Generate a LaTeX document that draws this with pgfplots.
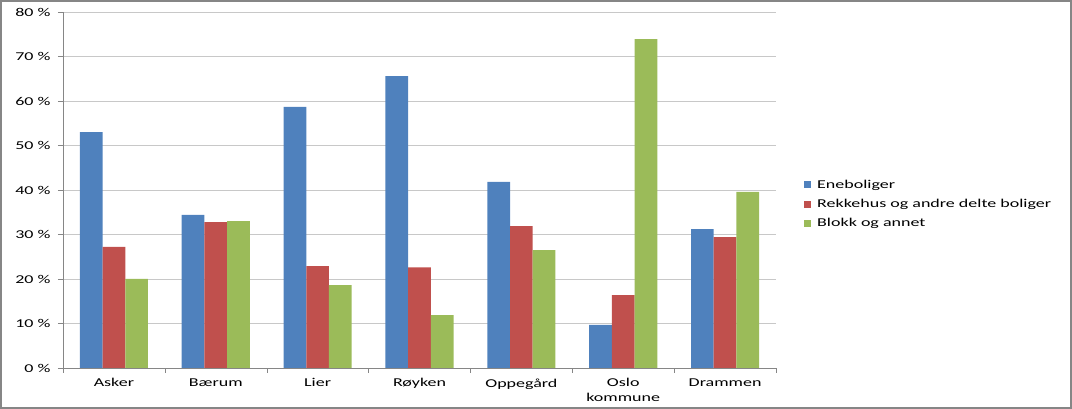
\documentclass[border=0pt]{standalone}
\usepackage{fontspec}
\setmainfont{Carlito}[FakeStretch=1.5]
\usepackage{pgfplots}
\pgfplotsset{compat=1.18}
\definecolor{eneb}{HTML}{4F81BD}
\definecolor{rekk}{HTML}{C0504D}
\definecolor{blokk}{HTML}{9BBB59}
\definecolor{gridc}{HTML}{C8C8C8}
\definecolor{axisc}{HTML}{868686}
\newcommand{\lbl}{\fontsize{12}{14.5}\selectfont}

\begin{document}
\begin{tikzpicture}[x=1pt,y=1pt]
\path[use as bounding box] (0,0) rectangle (1072,409);
\draw[axisc, line width=1.6pt] (0.8,0.8) rectangle (1071.2,408.2);
\begin{axis}[
    at={(63pt,41pt)}, anchor=south west,
    width=713pt, height=356pt, scale only axis,
    xmin=-0.5, xmax=6.5, ymin=0, ymax=80,
    ybar=0pt, bar width=22.7pt,
    axis x line*=bottom, axis y line*=left,
    axis line style={axisc},
    ymajorgrids, grid style={gridc},
    ytick={0,10,...,80},
    yticklabels={0 \%,10 \%,20 \%,30 \%,40 \%,50 \%,60 \%,70 \%,80 \%},
    ytick style={axisc},
    major tick length=5pt, tick align=outside,
    xtick={0,...,6},
    xticklabels={Asker,Bærum,Lier,Røyken,Oppegård,{Oslo\\kommune},Drammen},
    xtick style={draw=none},
    extra x ticks={-0.5,0.5,...,6.5}, extra x tick labels={},
    extra x tick style={xtick style={draw=axisc}},
    tick label style={font=\lbl, text=black},
    xticklabel style={align=center, yshift=-2pt},
    yticklabel style={xshift=-4pt},
    legend style={at={(1.035,0.46)}, anchor=west, draw=none, fill=none,
        font=\lbl, row sep=5.5pt},
    legend cell align=left,
    legend image code/.code={\fill[#1] (0pt,-3.5pt) rectangle (7pt,3.5pt);
        \path (11pt,0pt);},
]
% Eneboliger
\addplot[fill=eneb, draw=none] coordinates {
    (0,53.0) (1,34.4) (2,58.7) (3,65.6) (4,41.8) (5,9.7) (6,31.2)};
\addlegendentry{Eneboliger}
% Rekkehus og andre delte boliger
\addplot[fill=rekk, draw=none] coordinates {
    (0,27.2) (1,32.8) (2,22.9) (3,22.6) (4,31.9) (5,16.4) (6,29.4)};
\addlegendentry{Rekkehus og andre delte boliger}
% Blokk og annet
\addplot[fill=blokk, draw=none] coordinates {
    (0,20.0) (1,33.0) (2,18.6) (3,11.9) (4,26.5) (5,73.9) (6,39.6)};
\addlegendentry{Blokk og annet}
\end{axis}
\end{tikzpicture}
\end{document}
